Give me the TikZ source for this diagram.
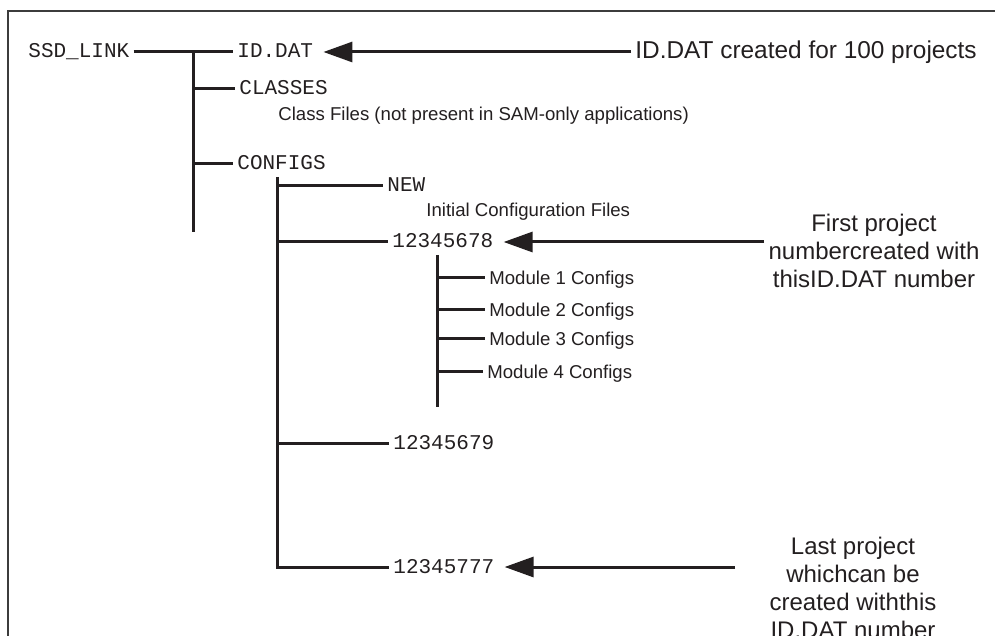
\documentclass[tikz,border=0pt]{standalone}
\usepackage{fontspec}
\setmainfont{Liberation Sans}
\setmonofont{Liberation Mono}
\usepackage{xcolor}
\usepackage{tikz}
\usetikzlibrary{arrows.meta, positioning, calc}
\definecolor{SSDInk}{RGB}{35, 31, 32}
\definecolor{SSDFrame}{RGB}{60, 60, 60}
\tikzset{
  dirname/.style={anchor=west, inner sep=2pt, text height=0.6em, text depth=0pt,
    font=\fontsize{10.5}{12}\selectfont\ttfamily, text=SSDInk},
  filenote/.style={anchor=west, inner sep=2pt, text height=0.72em, text depth=0pt,
    font=\fontsize{9.3}{11}\selectfont, text=SSDInk},
  remark/.style={inner sep=2pt, align=center, font=\fontsize{12}{14}\selectfont, text=SSDInk},
  branch/.style={draw=SSDInk, line width=1.5pt},
  pointer/.style={branch, -{Triangle[length=14.5pt, width=10pt]}, shorten >=3pt},
}

\begin{document}
\begin{tikzpicture}[x=0.5pt, y=-0.5pt]
  \useasboundingbox (0,0) rectangle (995,636);
  \clip (0,0) rectangle (995,636);
  \draw[SSDFrame, line width=1pt] (8,11) rectangle (1020,680);

  % top level
  \node[dirname] (ssd) at (24,52) {SSD\_LINK};
  \node[dirname] (iddat) at (233,52) {ID.DAT};
  \node[dirname] (classes) at (235,89) {CLASSES};
  \node[filenote] (classnote) at (274,113) {Class Files (not present in SAM-only applications)};
  \node[dirname] (configs) at (233,164) {CONFIGS};

  % configs folder
  \node[dirname] (new) at (383,186) {NEW};
  \node[filenote] (initnote) at (422,209) {Initial Configuration Files};
  \node[dirname] (p78) at (388,242) {12345678};
  \node[filenote] (mod1) at (485,277) {Module 1 Configs};
  \node[filenote] (mod2) at (485,309) {Module 2 Configs};
  \node[filenote] (mod3) at (485,338) {Module 3 Configs};
  \node[filenote] (mod4) at (483,371) {Module 4 Configs};
  \node[dirname] (p79) at (389,443) {12345679};
  \node[dirname] (p777) at (389,567) {12345777};

  % remarks on the right
  \node[remark, anchor=west] (idnote) at (631,52) {\fontsize{12.2}{14}\selectfont ID.DAT created for 100 projects};
  \node[remark] (firstnote) at (874,251) {First project\\numbercreated with\\thisID.DAT number};
  \node[remark] (lastnote) at (853,588) {Last project\\whichcan be\\created withthis\\ID.DAT number};

  % trunks
  \coordinate (rootTop) at (193,52);
  \coordinate (rootEnd) at (193,232);
  \coordinate (cfgTop) at (277,177);
  \coordinate (cfgEnd) at (277,567);
  \coordinate (modTop) at (437,255);
  \coordinate (modEnd) at (437,407);

  \draw[branch] (ssd) -- (iddat);
  \draw[branch] (rootTop) -- (rootEnd);
  \draw[branch] (rootTop |- classes) -- (classes.west);
  \draw[branch] (rootTop |- configs) -- (configs.west);

  \draw[branch] (cfgTop) -- (cfgEnd) -- (p777.west);
  \draw[branch] (cfgTop |- new) -- (new.west);
  \draw[branch] (cfgTop |- p78) -- (p78.west);
  \draw[branch] (cfgTop |- p79) -- (p79.west);

  \draw[branch] (modTop) -- (modEnd);
  \foreach \m in {mod1, mod2, mod3, mod4}
    \draw[branch] (modTop |- \m) -- (\m.west);

  % arrows
  \draw[pointer] (idnote.west) -- (iddat.east);
  \draw[pointer] (firstnote.west |- p78) -- (p78.east);
  \draw[pointer, shorten <=15pt] (lastnote.west |- p777) -- (p777.east);
\end{tikzpicture}
\end{document}
